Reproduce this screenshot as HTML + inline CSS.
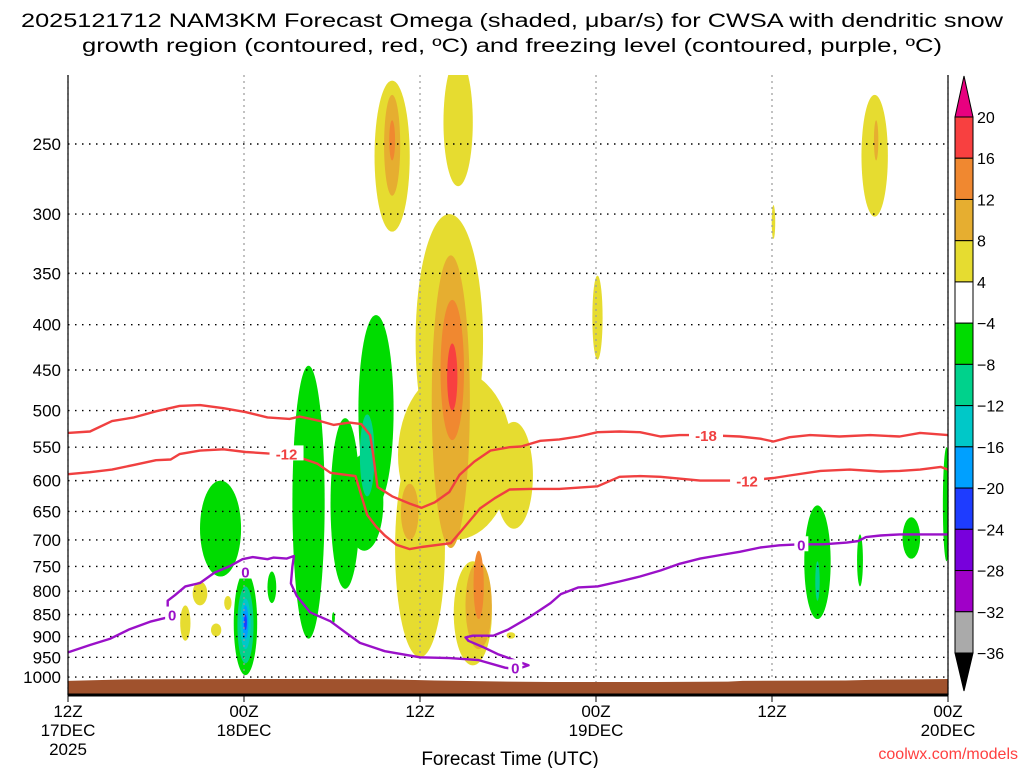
<!DOCTYPE html>
<html><head><meta charset="utf-8"><style>
html,body{margin:0;padding:0;background:#fff;}
svg{display:block;font-family:"Liberation Sans",sans-serif;}
</style></head><body>
<svg id="chart" width="1024" height="768" viewBox="0 0 1024 768">
<text x="512" y="27" text-anchor="middle" font-size="19" textLength="982" lengthAdjust="spacingAndGlyphs">2025121712 NAM3KM Forecast Omega (shaded, μbar/s) for CWSA with dendritic snow</text>
<text x="512" y="52" text-anchor="middle" font-size="19" textLength="860" lengthAdjust="spacingAndGlyphs">growth region (contoured, red, ºC) and freezing level (contoured, purple, ºC)</text>
<g id="shade"></g><g id="grid"></g><g id="ground"></g><g id="lines"></g><g id="axes"></g><g id="cbar"></g>
<text x="510" y="765" text-anchor="middle" font-size="19">Forecast Time (UTC)</text>
<text x="1018" y="759" text-anchor="end" font-size="16" fill="#ff4040">coolwx.com/models</text>
</svg>
<script>
// ---- data ----
const pressureTicks=[250,300,350,400,450,500,550,600,650,700,750,800,850,900,950,1000];
const timeTickHours=[0,12,24,36,48,60];
const timeTickLabels=[["12Z","17DEC","2025"],["00Z","18DEC"],["12Z"],["00Z","19DEC"],["12Z"],["00Z","20DEC"]];
const cbarLevels=[20,16,12,8,4,-4,-8,-12,-16,-20,-24,-28,-32,-36];
const cbarColors=["#f84040","#f08830","#e6ae30","#e6dc30","#ffffff","#00dc00","#00d28c","#00c8c8","#00a0ff","#1e3cff","#7800dc","#a000c8","#aaaaaa"];
// shaded blobs: [hour, topHPa, bottomHPa, halfWidthHours, colorIndex]
const blobs=[
[22.1,212,314,1.2,3],[22.1,220,286,0.55,2],[22.1,235,261,0.2,1],
[26.6,200,279,1.0,3],
[26.0,300,580,2.3,3],[26.4,450,700,3.9,3],[24.0,540,950,1.7,3],[27.6,740,970,1.3,3],[30.4,515,680,1.3,3],
[26.1,334,715,1.3,2],[28.0,740,930,0.9,2],[23.3,605,700,0.6,2],
[26.2,375,540,0.8,1],[28.0,720,860,0.35,1],[26.2,420,500,0.35,0],
[36.1,352,438,0.35,3],[48.1,293,320,0.12,3],
[55.0,220,302,0.9,3],[55.1,235,261,0.15,2],
[21.0,390,640,1.2,5],[20.2,560,720,1.3,5],[18.9,510,795,1.0,5],[20.4,505,625,0.5,6],
[16.4,445,905,1.1,5],
[10.4,600,770,1.4,5],[12.1,760,995,0.8,5],[12.1,790,965,0.55,6],[12.1,815,930,0.35,7],[12.1,830,905,0.2,8],[12.1,850,885,0.1,9],
[13.9,760,825,0.3,5],[18.1,845,870,0.1,5],
[9.0,780,830,0.5,3],[8.0,830,910,0.35,3],[10.1,870,900,0.35,3],[10.9,810,840,0.25,3],[30.2,890,905,0.3,3],
[51.1,640,860,0.9,5],[51.1,740,820,0.15,6],[54.0,690,790,0.2,5],[57.5,660,735,0.6,5],[59.9,550,740,0.25,5]
];
// contour lines: hours and pressures
const tempM18Hours=[0,1.5,3,4.5,6,7.6,9,10.6,12.1,13.6,15.1,15.8,17.2,18.1,19.2,20.0,20.6,20.8,21.1,22.1,23.3,24.1,25.0,26.0,26.7,27.7,28.8,30.1,30.9,32.2,33.5,34.8,36.1,37.6,39.0,40.4,41.7,43.4,45.8,47.2,48.1,49.2,50.6,52.6,54.7,56.7,58.1,60];
const tempM18Press=[530,528,514,509,501,494,493,497,502,509,511,508,514,519,516,518,533,560,610,625,637,644,635,618,591,571,555,550,549,541,539,535,529,528,529,535,533,533,535,538,542,536,533,535,533,535,530,533];
const tempM12Hours=[0,1.5,3,4.5,6,7.0,7.6,9,10.6,12.1,13.6,15.1,15.8,17.0,17.9,18.6,19.6,19.9,20.4,21.0,21.6,22.4,23.3,24.1,26.1,27.1,28.1,29.1,30.1,31.5,33.5,36.1,37.6,39.0,40.4,43.1,45.8,47.2,48.1,49.2,51.3,53.3,55.4,56.7,58.1,59.5,60];
const tempM12Press=[590,587,583,576,569,568,560,555,553,557,559,560,565,574,588,590,593,616,656,676,692,709,717,713,706,675,645,628,614,613,613,609,594,593,594,600,600,598,596,592,585,583,586,585,583,579,583];
const frzHours=[0,1.5,2.9,4.2,5.6,6.6,7.1,6.8,6.8,7.3,8.0,9.0,10.0,11.0,11.9,12.6,13.6,14.0,14.9,15.4,15.3,15.2,15.6,16.5,17.9,18.9,19.9,21.6,24.0,26.0,28.0,29.8,30.6,31.4,30.8,29.3,28.3,27.3,27.1,27.6,29.0,30.0,31.5,32.9,33.6,34.8,36.1,37.6,39.0,40.4,41.7,43.1,44.5,45.8,47.2,48.5,49.9,51.5,53.1,53.9,54.4,55.4,56.7,60];
const frzPress=[938,920,905,883,866,858,852,838,820,808,790,783,762,750,736,732,736,733,735,730,750,784,810,845,865,890,915,935,950,952,957,976,980,970,962,942,925,910,902,898,898,884,855,825,806,792,790,780,770,758,745,735,728,722,714,710,708,708,705,702,695,692,690,690];

// ---- scales ----
const X0=68,X1=948,YT=75,YB=695;
const xS=h=>X0+h*(X1-X0)/60;
const yS=p=>144+384.5*Math.log(p/250);
const NS="http://www.w3.org/2000/svg";
function mk(tag,attrs,parent){const e=document.createElementNS(NS,tag);for(const k in attrs)e.setAttribute(k,attrs[k]);parent.appendChild(e);return e;}
const G=id=>document.getElementById(id);

const defs=mk('defs',{},G('chart'));
const cp=mk('clipPath',{id:'pc'},defs);mk('rect',{x:X0,y:YT,width:X1-X0,height:YB-YT},cp);
G('shade').setAttribute('clip-path','url(#pc)');
G('lines').setAttribute('clip-path','url(#pc)');

blobs.forEach((b,i)=>{
 const y1=yS(b[1]),y2=yS(b[2]);
 const el=mk('ellipse',{cx:xS(b[0]),cy:(y1+y2)/2,rx:b[3]*(X1-X0)/60,ry:(y2-y1)/2,fill:cbarColors[b[4]]},G('shade'));
 
 
});

pressureTicks.forEach(p=>{
 const g=mk('line',{x1:X0,x2:X1,y1:yS(p),y2:yS(p),stroke:'#000','stroke-width':1.4,'stroke-dasharray':'1.5 5.5'},G('grid'));
 
 
 const t=mk('text',{x:61,y:yS(p)+6,'text-anchor':'end','font-size':17},G('axes'));t.textContent=p;
 
 
});
timeTickHours.forEach((h,i)=>{
 const g=mk('line',{x1:xS(h),x2:xS(h),y1:YT,y2:YB,stroke:'#999','stroke-width':1.2,'stroke-dasharray':'2 4'},G('grid'));
 
 
 mk('line',{x1:xS(h),x2:xS(h),y1:YB,y2:YB+7,stroke:'#000','stroke-width':1},G('axes'));
 timeTickLabels[i].forEach((s,j)=>{
  const t=mk('text',{x:xS(h),y:717+j*19,'text-anchor':'middle','font-size':17},G('axes'));t.textContent=s;
  
  
 });
});

const groundHours=[0,2,4,12,16,22,25,30,33,40,45,46,53,55,58,60];
const groundPress=[1010,1008,1006,1005,1005,1006,1009,1012,1013,1013,1012,1010,1009,1007,1006,1005];
let gd=`M${xS(0)},${YB}`;groundHours.forEach((h,i)=>gd+=`L${xS(h)},${yS(groundPress[i])}`);gd+=`L${xS(60)},${YB}Z`;
const ge=mk('path',{d:gd,fill:'#a0522d'},G('ground'));



function line(hs,ps,color,name){
 const d=hs.map((h,i)=>(i?'L':'M')+xS(h).toFixed(1)+','+yS(ps[i]).toFixed(1)).join('');
 const e=mk('path',{d,fill:'none',stroke:color,'stroke-width':2.4,'stroke-linejoin':'round'},G('lines'));
 
 
}
line(tempM18Hours,tempM18Press,'#f04040','contour-minus18c');
line(tempM12Hours,tempM12Press,'#f04040','contour-minus12c');
line(frzHours,frzPress,'#9a10c8','freezing-level-0c');
function lab(h,p,s,c,name){
 mk('rect',{x:xS(h)-s.length*5-2,y:yS(p)-8,width:s.length*10+4,height:15,fill:'#fff'},G('lines'));
 const t=mk('text',{x:xS(h),y:yS(p)+6,'text-anchor':'middle','font-size':15,'font-weight':'bold',fill:c},G('lines'));t.textContent=s;
 
 
}
lab(43.5,533,'-18','#f04040','label-minus18');
lab(14.9,559,'-12','#f04040','label-minus12-left');
lab(46.3,600,'-12','#f04040','label-minus12-right');
lab(7.1,850,'0','#9a10c8','label-freezing-left');
lab(12.1,760,'0','#9a10c8','label-freezing-mid');
lab(30.5,975,'0','#9a10c8','label-freezing-low');
lab(50.0,708,'0','#9a10c8','label-freezing-right');

mk('line',{x1:X0,x2:X0,y1:YT,y2:YB,stroke:'#000','stroke-width':1.2},G('axes'));
mk('line',{x1:X1,x2:X1,y1:YT,y2:YB,stroke:'#000','stroke-width':1.2},G('axes'));
mk('line',{x1:X0,x2:X1,y1:YB,y2:YB,stroke:'#000','stroke-width':3},G('axes'));

const CX=955,CW=18,CT=117,CH=(653-117)/13;
const tt=mk('path',{d:`M${CX},${CT}L${CX+CW/2},${76}L${CX+CW},${CT}Z`,fill:'#e8007f',stroke:'#000'},G('cbar'));


cbarColors.forEach((c,i)=>{
 const r=mk('rect',{x:CX,y:CT+i*CH,width:CW,height:CH,fill:c,stroke:'#000','stroke-width':1},G('cbar'));
 
 
});
const tb=mk('path',{d:`M${CX},${CT+13*CH}L${CX+CW/2},${691}L${CX+CW},${CT+13*CH}Z`,fill:'#000',stroke:'#000'},G('cbar'));


cbarLevels.forEach((v,i)=>{
 const t=mk('text',{x:977,y:CT+i*CH+6,'font-size':16},G('cbar'));t.textContent=v<0?'−'+(-v):String(v);
 
 
});
</script>
</body></html>
